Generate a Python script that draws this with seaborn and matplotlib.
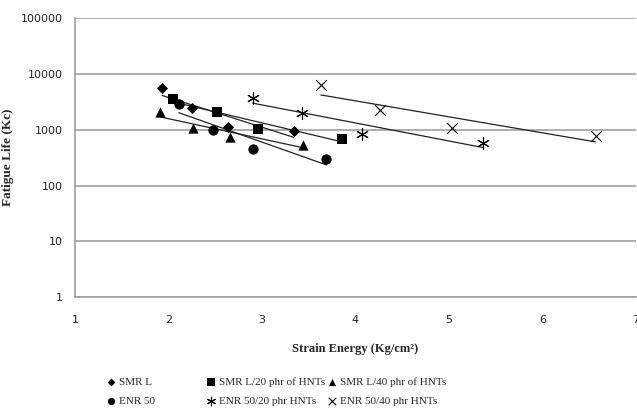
import numpy as np
import pandas as pd
import matplotlib
matplotlib.use("Agg")
import matplotlib.pyplot as plt
import seaborn as sns

series_names = ["SMR L", "SMR L/20 phr of HNTs", "SMR L/40 phr of HNTs",
                "ENR 50", "ENR 50/20 phr HNTs", "ENR 50/40 phr HNTs"]

smr_x = [1.93, 2.25, 2.64, 3.34]
smr_y = [5600, 2450, 1130, 930]
smr20_x = [2.05, 2.52, 2.96, 3.86]
smr20_y = [3550, 2100, 1040, 690]
smr40_x = [1.91, 2.26, 2.66, 3.44]
smr40_y = [2100, 1090, 750, 540]
enr_x = [2.11, 2.47, 2.90, 3.69]
enr_y = [2900, 1000, 460, 300]
enr20_x = [2.90, 3.43, 4.07, 5.36]
enr20_y = [3700, 2000, 850, 580]
enr40_x = [3.63, 4.26, 5.03, 6.57]
enr40_y = [6200, 2270, 1070, 780]

xs = [smr_x, smr20_x, smr40_x, enr_x, enr20_x, enr40_x]
ys = [smr_y, smr20_y, smr40_y, enr_y, enr20_y, enr40_y]

rows = []
for name, x, y in zip(series_names, xs, ys):
    for a, b in zip(x, y):
        rows.append({"strain": a, "life": b, "series": name})
df = pd.DataFrame(rows)

sns.set_style("white")
plt.rcParams['font.family'] = ['DejaVu Sans']

fig = plt.figure(figsize=(6.37, 4.11), dpi=100)
ax = fig.add_axes([0.118, 0.277, 0.88, 0.679])

markers = {"SMR L": "D", "SMR L/20 phr of HNTs": "s", "SMR L/40 phr of HNTs": "^",
           "ENR 50": "o", "ENR 50/20 phr HNTs": (6, 2, 0), "ENR 50/40 phr HNTs": "x"}
sizes = {"SMR L": 32, "SMR L/20 phr of HNTs": 55, "SMR L/40 phr of HNTs": 55,
         "ENR 50": 55, "ENR 50/20 phr HNTs": 75, "ENR 50/40 phr HNTs": 60}

for name in series_names:
    sub = df[df.series == name]
    m = markers[name]
    open_mark = name.startswith("ENR 50/")
    sns.scatterplot(data=sub, x="strain", y="life", marker=m, s=sizes[name],
                    color="black", edgecolor="black" if not open_mark else None,
                    linewidth=0.8 if open_mark else 0, ax=ax, label=name,
                    zorder=3)
    # exponential trendline
    k, c = np.polyfit(sub.strain, np.log(sub.life), 1)
    xx = np.array([sub.strain.min(), sub.strain.max()])
    ax.plot(xx, np.exp(c + k * xx), color="#222222", lw=0.9, zorder=2)

ax.set_yscale("log")
ax.set_xlim(1, 7)
ax.set_ylim(1, 100000)
ax.set_yticks([1, 10, 100, 1000, 10000, 100000])
ax.set_yticklabels(["1", "10", "100", "1000", "10000", "100000"])
ax.set_xticks([1, 2, 3, 4, 5, 6, 7])
ax.minorticks_off()
ax.yaxis.grid(True, color="#a0a0a0", lw=1.2)
ax.xaxis.grid(False)
for s in ["top", "right"]:
    ax.spines[s].set_visible(False)
for s in ["left", "bottom"]:
    ax.spines[s].set_color("#a0a0a0")
    ax.spines[s].set_linewidth(1.2)
ax.tick_params(axis="both", which="major", length=4, width=1, color="#a0a0a0",
               labelsize=8, labelcolor="#222222", direction="out")
ax.tick_params(axis="y", pad=5)
ax.tick_params(axis="x", pad=9)

ax.set_xlabel("Strain Energy (Kg/cm²)", family="Liberation Serif",
              fontweight="bold", fontsize=9, labelpad=13)
ax.set_ylabel("Fatigue Life (Kc)", family="Liberation Serif",
              fontweight="bold", fontsize=9.5, labelpad=5)

handles, labels = ax.get_legend_handles_labels()
ax.get_legend().remove()
columns = [([0, 3], 0.147), ([1, 4], 0.304), ([2, 5], 0.494)]
for idx, x0 in columns:
    leg = fig.legend([handles[i] for i in idx], [labels[i] for i in idx],
                     loc="lower left", bbox_to_anchor=(x0, -0.005), ncol=1,
                     frameon=False, prop={"family": "Liberation Serif", "size": 8},
                     handletextpad=-0.3, markerscale=0.7, labelspacing=0.85,
                     borderaxespad=0.2)

fig.savefig("out.png", dpi=100)
